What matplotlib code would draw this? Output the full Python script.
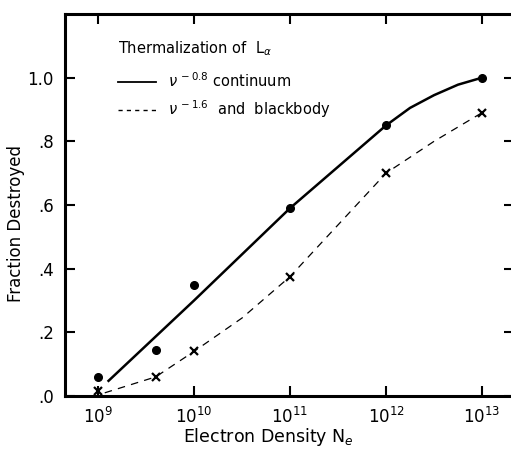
import numpy as np
import matplotlib
matplotlib.use("Agg")
import matplotlib.pyplot as plt
from matplotlib.lines import Line2D

# ---- data ----
density = [1e9, 4e9, 1e10, 1e11, 1e12, 1e13]
frac_cont08 = [0.06, 0.145, 0.35, 0.59, 0.85, 1.0]        # dots
frac_cont16 = [0.015, 0.06, 0.14, 0.375, 0.70, 0.89]      # crosses

solid_log_ne = [9.1, 10.0, 11.0, 12.0, 12.25, 12.5, 12.75, 13.0]
solid_frac = [0.045, 0.30, 0.59, 0.85, 0.905, 0.945, 0.978, 1.0]

dashed_log_ne = [9.07, 9.6, 10.0, 10.5, 11.0, 12.0, 12.5, 13.0]
dashed_frac = [0.01, 0.06, 0.14, 0.245, 0.375, 0.70, 0.80, 0.89]

xtick_exp = [9, 10, 11, 12, 13]
ytick_vals = [0.0, 0.2, 0.4, 0.6, 0.8, 1.0]
ytick_labels = [".0", ".2", ".4", ".6", ".8", "1.0"]

plt.rcParams['font.family'] = ['DejaVu Sans']
plt.rcParams['mathtext.fontset'] = 'dejavusans'

W = 449  # axes width in pixels
fig = plt.figure(figsize=(5.11, 4.5), dpi=100)
ax = fig.add_axes([65/511, 54/450, W/511, 382/450])

ax.plot(10.0 ** np.array(solid_log_ne), solid_frac, color='black', lw=1.8,
        solid_capstyle='butt')
ax.plot(10.0 ** np.array(dashed_log_ne), dashed_frac, color='black', lw=0.9,
        dashes=(6, 5))
ax.plot(density, frac_cont08, 'o', color='black', ms=5.5, mec='black')
ax.plot(density, frac_cont16, 'x', color='black', ms=6, mew=1.6)

ax.set_xscale('log')
ax.set_xlim(10 ** 8.656, 10 ** (8.656 + W / 96))
ax.set_ylim(0, 1.2)
ax.set_xticks([10.0 ** e for e in xtick_exp])
ax.set_xticklabels([r"10$^{%d}$" % e for e in xtick_exp], fontsize=12)
ax.xaxis.set_minor_locator(matplotlib.ticker.NullLocator())
ax.set_yticks(ytick_vals)
ax.set_yticklabels(ytick_labels, fontsize=12)
ax.tick_params(which='both', direction='in', length=7, width=1.5,
               top=True, right=True, pad=8)
for s in ax.spines.values():
    s.set_linewidth(2.2)

ax.set_xlabel(r"Electron Density N$_e$", fontsize=12.5)
ax.xaxis.set_label_coords((268 - 65) / W, -(426 - 396) / 382)
ax.set_ylabel("Fraction Destroyed", fontsize=12)
ax.yaxis.set_label_coords(-(65 - 25) / W, (396 - 223) / 382)

handles = [Line2D([], [], color='black', lw=1.3),
           Line2D([], [], color='black', lw=1.0, dashes=(3, 3))]
leg = ax.legend(handles,
                [r"$\nu^{\,-0.8}$ continuum", r"$\nu^{\,-1.6}$  and  blackbody"],
                title=r"Thermalization of  L$_{\alpha}$",
                loc='upper left', bbox_to_anchor=(0.106, 0.95),
                frameon=False, fontsize=10.5, title_fontsize=10.5,
                handlelength=2.6, handletextpad=0.8, labelspacing=0.55,
                borderaxespad=0)
leg._legend_box.align = "left"
leg._legend_box.sep = 10

fig.savefig("out.png", dpi=100)
